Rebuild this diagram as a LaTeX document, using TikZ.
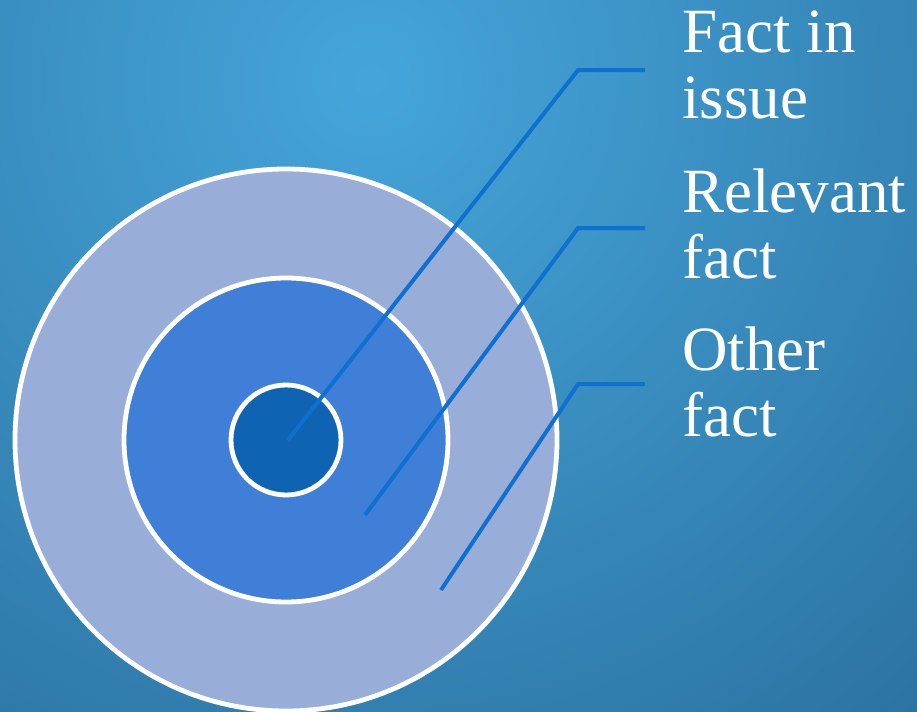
\documentclass[tikz,border=0pt]{standalone}
\usepackage{fontspec}
\setmainfont{Liberation Serif}
\usetikzlibrary{positioning}
\definecolor{bglight}{HTML}{45A5DA}
\definecolor{bgdark}{HTML}{1F5A86}
\definecolor{ringout}{HTML}{98AED8}
\definecolor{ringmid}{HTML}{3F7FD8}
\definecolor{ringin}{HTML}{0F63B3}
\definecolor{leader}{HTML}{1070CF}
\tikzset{
  ring/.style={circle, draw=white, line width=2.4pt, inner sep=0pt},
  lead/.style={draw=leader, line width=2pt},
  lbl/.style={anchor=north west, align=left, inner sep=0pt, text=white,
    font=\fontsize{31.5}{33}\selectfont},
}
\begin{document}
\begin{tikzpicture}[x=0.5pt,y=-0.5pt]
  % background
  \useasboundingbox (0,0) rectangle (917,712);
  \begin{scope}
    \clip (0,0) rectangle (917,712);
    \shade[inner color=bglight, outer color=bgdark] (370,80) circle (1250);
  \end{scope}
  % target rings
  \node[ring, fill=ringout, minimum size=271pt] (other) at (286,440) {};
  \node[ring, fill=ringmid, minimum size=162pt] (relevant) at (286,440) {};
  \node[ring, fill=ringin, minimum size=55pt] (issue) at (286,440) {};
  % labels
  \node[lbl] (tissue) at (682,10) {Fact in\\issue};
  \node[lbl] (trelevant) at (682,168) {Relevant\\fact};
  \node[lbl] (tother) at (682,326) {Other\\fact};
  % leader lines
  \coordinate (a1) at (288,440);
  \coordinate (a2) at (365,515);
  \coordinate (a3) at (441,590);
  \coordinate (k1) at (578,70);
  \coordinate (k2) at (578,228);
  \coordinate (k3) at (578,384);
  \coordinate (e1) at (645,70);
  \coordinate (e2) at (645,228);
  \coordinate (e3) at (645,384);
  \draw[lead] (a1) -- (k1) -- (e1);
  \draw[lead] (a2) -- (k2) -- (e2);
  \draw[lead] (a3) -- (k3) -- (e3);
\end{tikzpicture}
\end{document}
